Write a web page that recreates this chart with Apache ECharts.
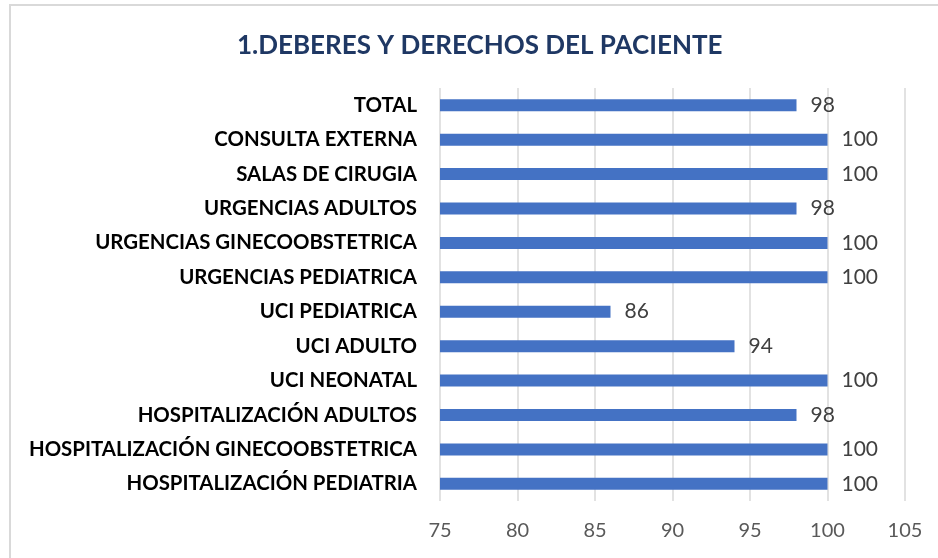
<!DOCTYPE html>
<html>
<head>
<meta charset="utf-8">
<script src="https://cdn.jsdelivr.net/npm/echarts@6/dist/echarts.min.js"></script>
<style>
  html, body { margin: 0; padding: 0; background: #fff; }
  #chart { width: 938px; height: 558px; }
</style>
</head>
<body>
<div id="chart"></div>
<script>
const categories = [
  'TOTAL',
  'CONSULTA EXTERNA',
  'SALAS DE CIRUGIA',
  'URGENCIAS ADULTOS',
  'URGENCIAS GINECOOBSTETRICA',
  'URGENCIAS PEDIATRICA',
  'UCI PEDIATRICA',
  'UCI ADULTO',
  'UCI NEONATAL',
  'HOSPITALIZACIÓN ADULTOS',
  'HOSPITALIZACIÓN GINECOOBSTETRICA',
  'HOSPITALIZACIÓN PEDIATRIA'
]
const values = [98, 100, 100, 98, 100, 100, 86, 94, 100, 98, 100, 100]

const dom = document.getElementById('chart')
const chart = echarts.init(dom)

const option = {
  animation: false,
  title: {
    text: '1.DEBERES Y DERECHOS DEL PACIENTE',
    left: 232,
    top: 28,
    textStyle: {
      fontFamily: 'Lato',
      fontWeight: 'bold',
      fontSize: 26,
      color: '#1f3864'
    }
  },
  graphic: [
    {
      type: 'rect',
      shape: { x: 10, y: 5, width: 940, height: 570 },
      style: { fill: 'none', stroke: '#d9d9d9', lineWidth: 2 },
      silent: true
    }
  ],
  grid: {
    left: 440,
    right: 33,
    top: 88,
    bottom: 57
  },
  xAxis: {
    type: 'value',
    min: 75,
    max: 105,
    interval: 5,
    axisLine: { show: false },
    axisTick: { show: false },
    axisLabel: {
      fontFamily: 'Lato',
      fontSize: 20,
      color: '#595959',
      margin: 20
    },
    splitLine: {
      show: true,
      lineStyle: { color: '#d9d9d9', width: 1.5 }
    }
  },
  yAxis: {
    type: 'category',
    data: categories,
    inverse: true,
    axisLine: { show: false },
    axisTick: { show: false },
    axisLabel: {
      fontFamily: 'Lato',
      fontWeight: 'bold',
      fontSize: 20.4,
      color: '#000000',
      margin: 23
    }
  },
  series: [
    {
      type: 'bar',
      data: values,
      barWidth: 12,
      itemStyle: { color: '#4472c4' },
      label: {
        show: true,
        position: 'right',
        distance: 14,
        fontFamily: 'Lato',
        fontSize: 21,
        color: '#404040'
      }
    }
  ]
}

chart.setOption(option)
</script>
</body>
</html>
